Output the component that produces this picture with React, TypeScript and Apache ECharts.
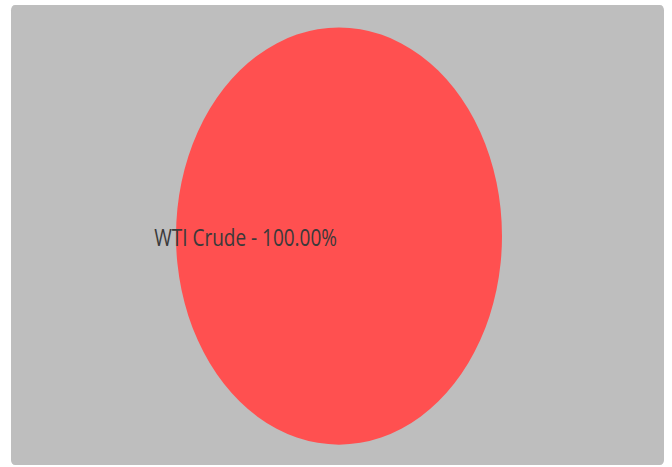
import React, { useEffect, useRef } from "react";
import * as echarts from "echarts";

const categories = ["WTI Crude"];
const values = [100];

const W = 672;
const SCALE_Y = 1.2795;
const H = 365;

export default function App() {
  const ref = useRef<HTMLDivElement>(null);
  useEffect(() => {
    if (!ref.current) return;
    const chart = echarts.init(ref.current, undefined, { renderer: "svg" });
    const total = values.reduce((a, b) => a + b, 0);
    chart.setOption({
      animation: false,
      backgroundColor: "#ffffff",
      graphic: [
        {
          type: "rect",
          z: -10,
          shape: { x: 11, y: 4, width: 653, height: 359.5, r: 4 },
          style: { fill: "#bebebe" },
        },
      ],
      series: [
        {
          type: "pie",
          center: [339, 184.5],
          radius: [0, 163],
          startAngle: 90,
          data: categories.map((c, i) => ({ name: c, value: values[i] })),
          itemStyle: { color: "#ff5050", borderWidth: 0 },
          label: {
            show: true,
            position: "center",
            color: "#3a3a3a",
            fontFamily: "Open Sans",
            fontSize: 19,
            formatter: (p: any) =>
              `${p.name} - ${((p.value / total) * 100).toFixed(2)}%`,
          },
          labelLayout: { align: "right", dx: -2 },
          labelLine: { show: false },
          emphasis: { disabled: true },
        },
      ],
    });
    return () => chart.dispose();
  }, []);
  return (
    <div
      style={{
        position: "fixed",
        left: 0,
        top: 0,
        width: W,
        height: 467,
        overflow: "hidden",
        background: "#fff",
      }}
    >
      <div
        ref={ref}
        style={{
          width: W,
          height: H,
          transform: `scaleY(${SCALE_Y})`,
          transformOrigin: "0 0",
        }}
      />
    </div>
  );
}
